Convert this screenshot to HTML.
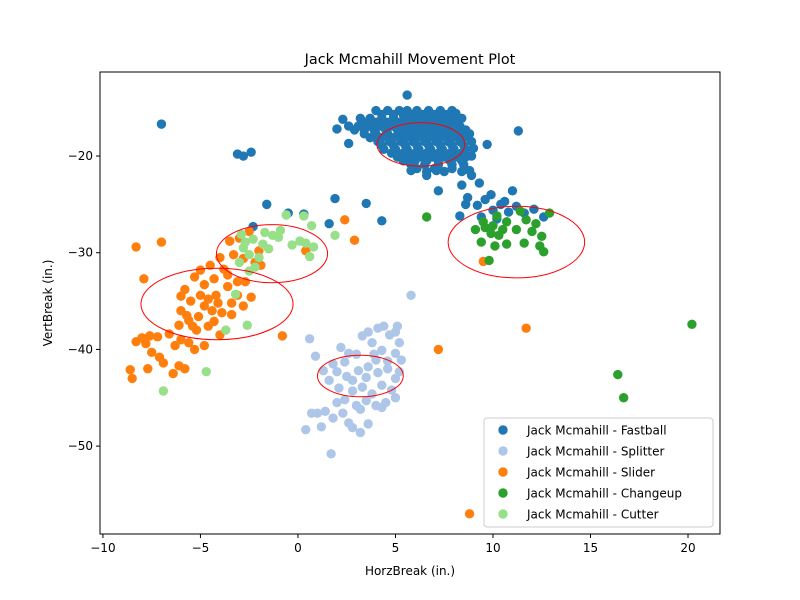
<!DOCTYPE html>
<html><head><meta charset="utf-8"><style>body{margin:0;background:#fff}svg{display:block;font-family:"DejaVu Sans","Liberation Sans",sans-serif}</style></head>
<body>
<svg id="chart" width="800" height="600" xmlns="http://www.w3.org/2000/svg"></svg>
<script>
const fastball = [[4.0,-15.3],[4.6,-15.3],[5.2,-15.3],[5.6,-15.3],[6.1,-15.3],[6.7,-15.3],[7.3,-15.3],[7.9,-15.3],
[3.2,-16.1],[3.7,-16.1],[4.3,-16.1],[4.9,-16.1],[5.5,-16.1],[6.0,-16.1],[6.6,-16.1],[7.2,-16.1],[7.8,-16.1],[8.4,-16.1],
[2.6,-16.9],[3.1,-16.9],[3.6,-16.9],[4.2,-16.9],[4.8,-16.9],[5.4,-16.9],[5.9,-16.9],[6.5,-16.9],[7.1,-16.9],[7.7,-16.9],[8.3,-16.9],
[3.4,-17.7],[4.0,-17.7],[4.6,-17.7],[5.2,-17.7],[5.8,-17.7],[6.4,-17.7],[7.0,-17.7],[7.6,-17.7],[8.2,-17.7],[8.8,-17.7],
[4.1,-18.5],[4.7,-18.5],[5.3,-18.5],[5.9,-18.5],[6.5,-18.5],[7.1,-18.5],[7.7,-18.5],[8.3,-18.5],[8.9,-18.5],
[4.4,-19.3],[5.0,-19.3],[5.6,-19.3],[6.2,-19.3],[6.8,-19.3],[7.4,-19.3],[8.0,-19.3],[8.6,-19.3],
[5.1,-20.1],[5.7,-20.1],[6.3,-20.1],[6.9,-20.1],[7.5,-20.1],[8.1,-20.1],[8.6,-20.1],
[5.8,-20.9],[6.5,-20.9],[7.2,-20.9],[7.9,-20.9],[8.5,-20.9],[6.6,-21.6],[7.5,-21.6],[8.4,-21.6],
[4.3,-15.7],[4.9,-15.7],[5.4,-15.7],[5.9,-15.7],[6.4,-15.7],[7.0,-15.7],[7.6,-15.7],[8.1,-15.6],
[3.4,-16.5],[4.0,-16.5],[4.6,-16.5],[5.2,-16.5],[5.7,-16.5],[6.3,-16.5],[6.9,-16.5],[7.5,-16.5],[8.1,-16.5],
[2.9,-17.3],[3.4,-17.3],[3.9,-17.3],[4.5,-17.3],[5.1,-17.3],[5.6,-17.3],[6.2,-17.3],[6.8,-17.3],[7.4,-17.3],[8.0,-17.3],[8.6,-17.3],
[3.7,-18.1],[4.3,-18.1],[4.9,-18.1],[5.5,-18.1],[6.1,-18.1],[6.7,-18.1],[7.3,-18.1],[7.9,-18.1],[8.5,-18.1],
[4.3,-18.9],[4.9,-18.9],[5.5,-18.9],[6.1,-18.9],[6.7,-18.9],[7.3,-18.9],[7.9,-18.9],[8.5,-18.9],[9.0,-19.2],
[4.8,-19.7],[5.4,-19.7],[6.0,-19.7],[6.6,-19.7],[7.2,-19.7],[7.8,-19.7],[8.4,-19.7],[8.9,-20.0],
[5.4,-20.5],[6.0,-20.5],[6.6,-20.5],[7.2,-20.5],[7.8,-20.5],[8.4,-20.5],[6.1,-21.3],[7.0,-21.3],[7.9,-21.3],[8.8,-21.5],
[5.6,-13.7],[-7,-16.7],[-3.1,-19.8],[-2.8,-20],[-2.4,-19.6],[11.3,-17.4],[9.7,-18.8],[2.3,-16.2],[2.0,-17.2],[2.6,-18.7],
[7.2,-23.6],[8.4,-23],[8.7,-24.3],[8.9,-22],[9.3,-22.8],[8.6,-25],[9.2,-25.1],[9.6,-24.5],[10,-25.6],[10.4,-25],[10.8,-25.8],
[11.2,-25.2],[11.6,-25.9],[12.1,-25.5],[9.4,-26.3],[10.2,-26.5],[11,-23.6],[8.3,-26.2],[12.6,-26.3],[9.9,-24],[10.6,-24.7],
[-1.6,-25],[-0.5,-25.9],[0.3,-26],[1.9,-24.4],[1.6,-27],[3.5,-24.9],[4.3,-26.7],[-2.3,-27.3],[5.8,-21.5],[6.6,-22],[7.1,-21.5]];
const splitter = [[5.8,-34.4],[5.1,-37.6],[5,-38.2],[4.7,-38.5],[5.2,-39.3],[4.4,-37.6],[4.1,-37.8],[3.6,-38.2],[3.3,-38.6],[3.8,-39.3],
[4.3,-40.1],[5.0,-40.4],[5.3,-41.1],[3.0,-40.5],[2.6,-40.4],[2.2,-39.8],[1.8,-41.5],[0.6,-38.9],[0.9,-40.7],[2.0,-42.3],[2.5,-42.8],
[3.1,-42.2],[3.6,-41.8],[4.1,-42.4],[4.6,-42.0],[5.0,-43],[1.3,-42.2],[1.6,-43.2],[2.1,-44],[2.8,-44.3],[3.3,-43.9],[3.8,-44.6],
[4.3,-43.7],[4.8,-44.2],[2.4,-45.2],[3.0,-45.8],[3.5,-45.3],[4.0,-45.8],[4.5,-45.5],[5.0,-45],[1.4,-46.4],[1.0,-46.6],[0.7,-46.6],
[1.8,-47.1],[2.3,-46.6],[2.6,-47.6],[1.2,-48],[2.8,-48.1],[3.2,-48.6],[3.6,-47.7],[0.4,-48.3],[1.7,-50.8],[3.2,-46.2],[4.3,-46.0],
[2.0,-45.5],[5.2,-42.3],[3.9,-40.5],[2.8,-43.2],[3.5,-42.9],[4.0,-41.1],[4.6,-41.2],[2.4,-41.3]];
const slider = [[-8.3,-29.4],[-7.0,-28.9],[-7.9,-32.7],[-3.0,-28.5],[-2.5,-27.8],[-3.5,-28.8],[-3.3,-30.2],[-2.8,-30.6],[-2.2,-31],
[-1.9,-31.3],[-3.8,-31.7],[-4.3,-32.7],[-4.5,-31.3],[-5.0,-31.8],[-5.3,-32.5],[-4.8,-33.3],[-5.8,-33.8],[-6.0,-34.5],[-5.5,-35],
[-5.0,-34.4],[-4.6,-34.8],[-4.2,-34.4],[-3.6,-33.5],[-3.1,-33.0],[-3.4,-35.2],[-2.8,-35.5],[-2.4,-34.6],[-3.9,-36.2],[-4.4,-36.0],
[-5.1,-36.6],[-5.6,-37.0],[-6.1,-37.5],[-5.2,-38.0],[-4.6,-37.6],[-4.0,-38.5],[-3.4,-36.4],[-6.0,-39.0],[-6.6,-38.4],[-7.2,-38.7],
[-7.6,-38.6],[-8.0,-38.8],[-7.8,-39.4],[-8.3,-39.2],[-7.5,-40.3],[-6.3,-39.6],[-5.6,-39.3],[-5.3,-40.0],[-4.8,-39.6],[-6.9,-41.4],
[-7.1,-40.8],[-6.1,-41.7],[-5.8,-42],[-6.4,-42.5],[-8.6,-42.1],[-8.5,-43],[-7.7,-42],[-5.4,-37.6],[-4.3,-37.1],[-3.1,-34.4],
[-2.7,-33],[-6.0,-36.0],[-5.7,-36.5],[-4.8,-35.5],[-4.1,-35.2],[-3.6,-32.3],[-4.0,-30.5],[-2.0,-29.8],
[2.4,-26.6],[2.9,-28.7],[7.2,-40],[11.7,-37.8],[8.8,-57],[9.5,-30.9],[-0.8,-38.6],[0.4,-29.8]];
const changeup = [[6.6,-26.3],[9.5,-26.8],[10.2,-26.2],[11.4,-25.7],[12.2,-27],[12.9,-25.9],[9.1,-27.6],[9.6,-27.4],[10.0,-27.2],
[10.5,-27.6],[9.9,-28],[9.4,-28.9],[10.1,-29.3],[10.7,-29.1],[11.6,-29],[12.4,-29.3],[12.6,-29.9],[12.0,-27.8],[12.5,-28.3],
[11.7,-26.6],[11.2,-27.6],[9.8,-30.8],[16.4,-42.6],[16.7,-45],[20.2,-37.4],[10.7,-26.8],[10.3,-28.2]];
const cutter = [[-2.9,-28.1],[-2.3,-28.6],[-1.7,-27.9],[-1.3,-28.2],[-0.9,-27.7],[-0.6,-26.1],[0.3,-26.2],[0.7,-27.2],[-2.7,-28.9],
[-2.8,-29.5],[-2.5,-30.2],[-2.2,-31.5],[-2.5,-31.9],[-1.8,-29.1],[-1.5,-29.6],[-1.0,-28.4],[0.1,-28.8],[0.4,-29.0],[0.8,-29.4],
[0.6,-30.4],[-3.0,-31],[-3.2,-34.3],[-2.6,-37.5],[-3.7,-38],[-4.7,-42.3],[-6.9,-44.3],[1.9,-28.2],[-0.3,-29.2],[-2.0,-30.5]];
// ellipses: [cx, cy, width, height]
const ellipseFastball=[6.3,-18.8,4.5,4.5], ellipseSplitter=[3.2,-42.75,4.4,4.3], ellipseSlider=[-4.15,-35.3,7.8,7.4],
 ellipseChangeup=[11.2,-28.9,7.0,7.4], ellipseCutter=[-1.33,-30.1,5.7,6.0];
const xTicks=[-10,-5,0,5,10,15,20], yTicks=[-20,-30,-40,-50];
const seriesNames=["Jack Mcmahill - Fastball","Jack Mcmahill - Splitter","Jack Mcmahill - Slider","Jack Mcmahill - Changeup","Jack Mcmahill - Cutter"];

const L=100,R=720,T=72,B=534, xmin=-10.15,xmax=21.64,ymin=-59.09,ymax=-11.31;
const sx=v=>L+(v-xmin)/(xmax-xmin)*(R-L), sy=v=>B-(v-ymin)/(ymax-ymin)*(B-T);
const svg=document.getElementById('chart'), NS='http://www.w3.org/2000/svg';
function mk(tag,attrs,parent){const e=document.createElementNS(NS,tag);for(const k in attrs)e.setAttribute(k,attrs[k]);(parent||svg).appendChild(e);return e;}
const colors=["#1f77b4","#aec7e8","#ff7f0e","#2ca02c","#98df8a"];
const allSeries=[fastball,splitter,slider,changeup,cutter];
allSeries.forEach((s,i)=>{const g=mk('g',{});
 
 
 s.forEach(p=>{const c=mk('circle',{cx:sx(p[0]),cy:sy(p[1]),r:4.7,fill:colors[i]},g);
  
  });});
[ellipseFastball,ellipseSplitter,ellipseSlider,ellipseChangeup,ellipseCutter].forEach((e,i)=>{
 const el=mk('ellipse',{cx:sx(e[0]),cy:sy(e[1]),rx:(sx(e[2])-sx(0))/2,ry:(sy(0)-sy(e[3]))/2,fill:'none',stroke:'red','stroke-width':1});
 
 });
const frame=mk('rect',{x:L,y:T,width:R-L,height:B-T,fill:'none',stroke:'#000','stroke-width':1});


xTicks.forEach(t=>{const x=sx(t);mk('line',{x1:x,x2:x,y1:B,y2:B+4,stroke:'#000'});
 const tx=mk('text',{x:x,y:B+18,'font-size':12,'text-anchor':'middle'});tx.textContent=t<0?'\u2212'+(-t):t;
 
 });
yTicks.forEach(t=>{const y=sy(t);mk('line',{x1:L-4,x2:L,y1:y,y2:y,stroke:'#000'});
 const tx=mk('text',{x:L-7,y:y+4,'font-size':12,'text-anchor':'end'});tx.textContent='\u2212'+(-t);
 
 });
let t=mk('text',{x:410,y:64,'font-size':14.4,'text-anchor':'middle'});t.textContent='Jack Mcmahill Movement Plot';


t=mk('text',{x:410,y:575,'font-size':12,'text-anchor':'middle'});t.textContent='HorzBreak (in.)';


t=mk('text',{x:52,y:303,'font-size':12,'text-anchor':'middle',transform:'rotate(-90 52 303)'});t.textContent='VertBreak (in.)';


const lg=mk('g',{});


mk('rect',{x:484,y:418,width:229,height:109,rx:3,fill:'#fff','fill-opacity':0.8,stroke:'#ccc'},lg);
seriesNames.forEach((n,i)=>{const y=430+i*21;
 const e=mk('g',{},lg);
 
 
 mk('circle',{cx:503,cy:y,r:4.7,fill:colors[i]},e);
 const tx=mk('text',{x:527,y:y+4.5,'font-size':12},e);tx.textContent=n;});
</script>
</body></html>
